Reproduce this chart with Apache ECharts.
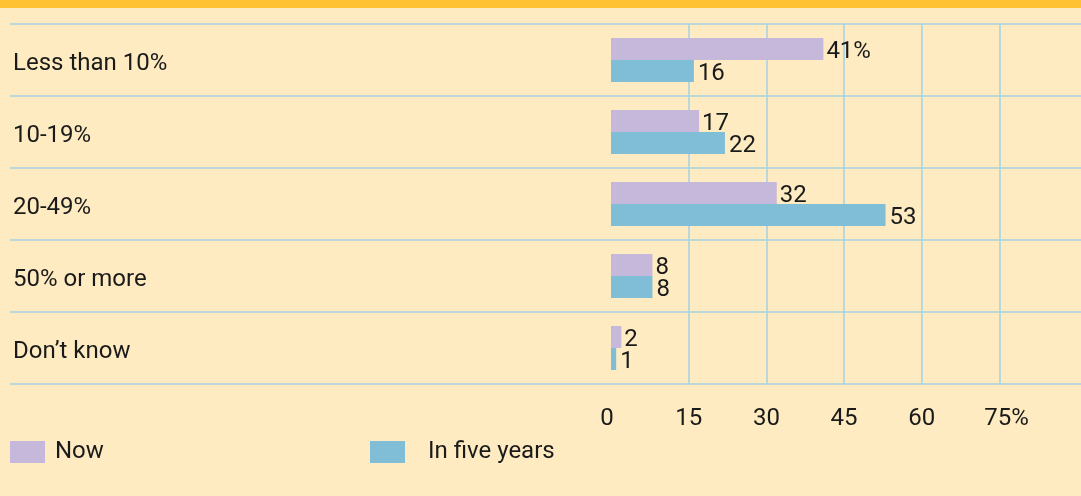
<!DOCTYPE html>
<html>
<head>
<meta charset="utf-8">
<script src="https://cdn.jsdelivr.net/npm/echarts@6/dist/echarts.min.js"></script>
<style>
html,body{margin:0;padding:0;background:#FEEBC1;}
#top{position:absolute;left:0;top:0;width:1081px;height:8px;background:#FFC232;}
#c{position:absolute;left:0;top:0;width:1081px;height:496px;}
</style>
</head>
<body>
<div id="c"></div>
<div id="top"></div>
<script>
const categories = ['Less than 10%', '10-19%', '20-49%', '50% or more', 'Don\u2019t know'];
const nowValues = [41, 17, 32, 8, 2];
const fiveYearValues = [16, 22, 53, 8, 1];
const tickLabels = ['0', '15', '30', '45', '60', '75%'];
const seriesNames = ['Now', 'In five years'];

const FONT = 'Roboto';
const TXT = '#1a1a1a';
const LINE = '#A3D2E3';
const FS = 24;

const chart = echarts.init(document.getElementById('c'), null, {renderer: 'canvas'});
chart.setOption({
  backgroundColor: '#FEEBC1',
  animation: false,
  textStyle: {fontFamily: FONT},
  legend: [
    {data: [seriesNames[0]], left: 10, top: 440, padding: 0, itemWidth: 35, itemHeight: 22,
     icon: 'rect', textStyle: {fontFamily: FONT, fontSize: FS, color: TXT, padding: [3, 0, 0, 5]}},
    {data: [seriesNames[1]], left: 370, top: 440, padding: 0, itemWidth: 35, itemHeight: 22,
     icon: 'rect', textStyle: {fontFamily: FONT, fontSize: FS, color: TXT, padding: [3, 0, 0, 18]}}
  ],
  grid: [
    {left: 611, top: 24, width: 388.5, height: 360, containLabel: false},
    {left: 10, right: 0, top: 24, height: 360, containLabel: false}
  ],
  xAxis: [
    {gridIndex: 0, type: 'value', min: 0, max: 75, interval: 15,
     axisLine: {show: false}, axisTick: {show: false},
     splitLine: {show: true, showMinLine: false, lineStyle: {color: LINE, width: 1.5}},
     axisLabel: {margin: 23, fontSize: FS, color: TXT, fontFamily: FONT,
       formatter: function (v) {
         const i = Math.round(v / 15);
         if (i === 0) return '{z|' + tickLabels[i] + '}';
         if (i === tickLabels.length - 1) return '{e|' + tickLabels[i] + '}';
         return tickLabels[i];
       },
       rich: {
         z: {fontSize: FS, color: TXT, fontFamily: FONT, padding: [0, 8, 0, 0]},
         e: {fontSize: FS, color: TXT, fontFamily: FONT, padding: [0, 0, 0, 14]}
       }}},
    {gridIndex: 1, type: 'value', show: false}
  ],
  yAxis: [
    {gridIndex: 0, type: 'category', data: categories, inverse: true,
     axisLine: {show: false}, axisTick: {show: false}, splitLine: {show: false},
     axisLabel: {margin: 598, align: 'left', fontSize: FS, color: TXT, fontFamily: FONT,
       formatter: function (v) { return '{c|' + v + '}'; },
       rich: {c: {fontSize: FS, color: TXT, fontFamily: FONT, padding: [8, 0, 0, 0]}}}},
    {gridIndex: 1, type: 'category', data: categories, inverse: true,
     axisLine: {show: false}, axisTick: {show: false},
     axisLabel: {show: false},
     splitLine: {show: true, lineStyle: {color: LINE, width: 1.5}}}
  ],
  series: [
    {name: seriesNames[0], type: 'bar', xAxisIndex: 0, yAxisIndex: 0, data: nowValues,
     barWidth: 22, barGap: '0%', itemStyle: {color: '#C5B8DA'},
     label: {show: true, position: 'right', distance: 3, fontSize: FS, color: TXT, fontFamily: FONT,
       offset: [0, 3],
       formatter: function (p) { return p.dataIndex === 0 ? p.value + '%' : String(p.value); }}},
    {name: seriesNames[1], type: 'bar', xAxisIndex: 0, yAxisIndex: 0, data: fiveYearValues,
     barWidth: 22, barGap: '0%', itemStyle: {color: '#80BED8'},
     label: {show: true, position: 'right', distance: 4, fontSize: FS, color: TXT, fontFamily: FONT,
       offset: [0, 3]}}
  ]
});
</script>
</body>
</html>
